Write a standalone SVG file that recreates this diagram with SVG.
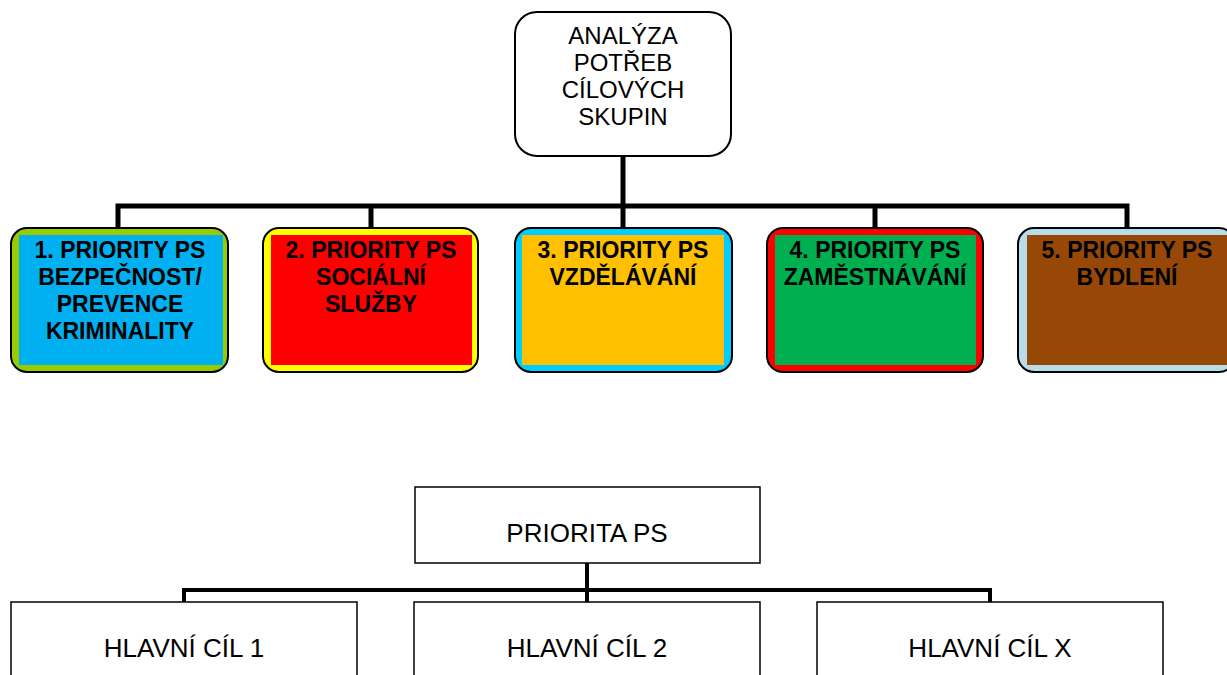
<svg xmlns="http://www.w3.org/2000/svg" width="1227" height="675" viewBox="0 0 1227 675">
<style>
.bg{fill:#ffffff}
.outer{stroke:#000;stroke-width:2}
.plain{fill:#fff;stroke:#000;stroke-width:1.5}
.conn{fill:none;stroke:#000;stroke-width:5;stroke-linejoin:miter}
.conn2{fill:none;stroke:#000;stroke-width:4;stroke-linejoin:miter}
.t{font-family:"Liberation Sans",Arial,sans-serif;text-anchor:middle;fill:#000}
.tb{font-family:"Liberation Sans",Arial,sans-serif;text-anchor:middle;fill:#000;font-weight:bold;font-size:23px}
</style>
<rect class="bg" x="0" y="0" width="1227" height="675"/>
<g id="connectors">
<path class="conn" d="M623,156 V206"/>
<path class="conn" d="M118,228 V206 H1127 V228"/>
<path class="conn" d="M371,206 V228"/>
<path class="conn" d="M623,206 V228"/>
<path class="conn" d="M875,206 V228"/>
<path class="conn2" d="M587,563 V602"/>
<path class="conn2" d="M184,602 V590 H990 V602"/>
</g>
<g id="root">
<rect x="515" y="12" width="216" height="144" rx="22" fill="#fff" stroke="#000" stroke-width="2"/>
<text class="t" font-size="24" x="623" y="44">ANALÝZA</text>
<text class="t" font-size="24" x="623" y="71">POTŘEB</text>
<text class="t" font-size="24" x="623" y="98">CÍLOVÝCH</text>
<text class="t" font-size="24" x="623" y="125">SKUPIN</text>
</g>
<g id="p1">
<rect class="outer" x="11" y="228" width="217" height="144" rx="16" fill="#99CC00"/>
<rect x="19" y="235" width="204" height="130" fill="#00B0F0"/>
<text class="tb" x="120" y="258">1. PRIORITY PS</text>
<text class="tb" x="120" y="285">BEZPEČNOST/</text>
<text class="tb" x="120" y="312">PREVENCE</text>
<text class="tb" x="120" y="339">KRIMINALITY</text>
</g>
<g id="p2">
<rect class="outer" x="263" y="228" width="215" height="144" rx="16" fill="#FFFF00"/>
<rect x="271" y="235" width="201" height="130" fill="#FF0000"/>
<text class="tb" x="371" y="258">2. PRIORITY PS</text>
<text class="tb" x="371" y="285">SOCIÁLNÍ</text>
<text class="tb" x="371" y="312">SLUŽBY</text>
</g>
<g id="p3">
<rect class="outer" x="515" y="228" width="217" height="144" rx="16" fill="#00CCFF"/>
<rect x="522" y="235" width="202" height="130" fill="#FFC000"/>
<text class="tb" x="623" y="258">3. PRIORITY PS</text>
<text class="tb" x="623" y="285">VZDĚLÁVÁNÍ</text>
</g>
<g id="p4">
<rect class="outer" x="767" y="228" width="216" height="144" rx="16" fill="#FF0000"/>
<rect x="775" y="235" width="201" height="130" fill="#00B050"/>
<text class="tb" x="875" y="258">4. PRIORITY PS</text>
<text class="tb" x="875" y="285">ZAMĚSTNÁVÁNÍ</text>
</g>
<g id="p5">
<rect class="outer" x="1018" y="228" width="217" height="144" rx="16" fill="#B7DEE8"/>
<rect x="1027" y="235" width="202" height="130" fill="#974806"/>
<text class="tb" x="1127" y="258">5. PRIORITY PS</text>
<text class="tb" x="1127" y="285">BYDLENÍ</text>
</g>
<g id="priorita">
<rect class="plain" x="415" y="487" width="345" height="76"/>
<text class="t" font-size="26" x="587" y="542">PRIORITA PS</text>
</g>
<g id="cil1">
<rect class="plain" x="11" y="602" width="346" height="90"/>
<text class="t" font-size="26" x="184" y="657">HLAVNÍ CÍL 1</text>
</g>
<g id="cil2">
<rect class="plain" x="414" y="602" width="346" height="90"/>
<text class="t" font-size="26" x="587" y="657">HLAVNÍ CÍL 2</text>
</g>
<g id="cilx">
<rect class="plain" x="817" y="602" width="346" height="90"/>
<text class="t" font-size="26" x="990" y="657">HLAVNÍ CÍL X</text>
</g>
</svg>
